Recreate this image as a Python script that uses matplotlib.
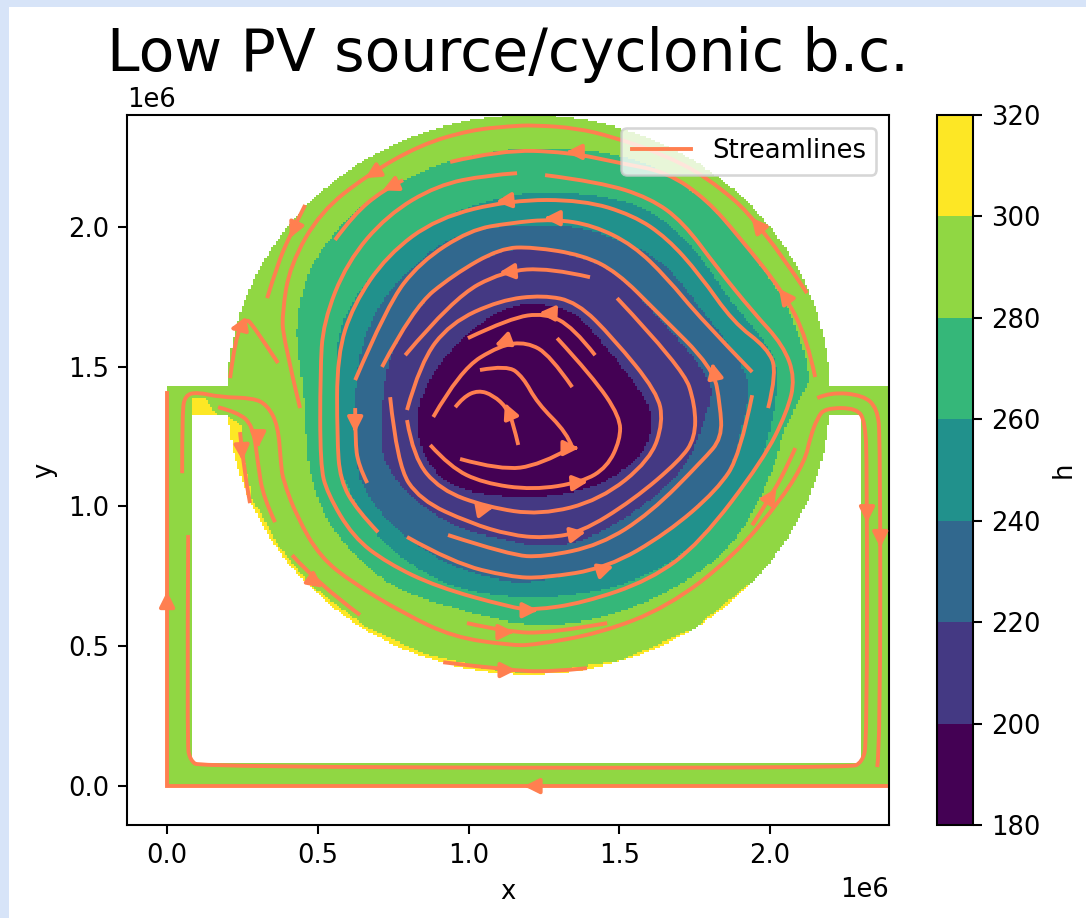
import numpy as np
import matplotlib
matplotlib.use('Agg')
import matplotlib.pyplot as plt
from matplotlib.colors import BoundaryNorm
from matplotlib.lines import Line2D
from matplotlib.patches import FancyArrowPatch, PathPatch, Rectangle
from matplotlib.path import Path

# all lengths below are in units of 1e6, as on the axes
levels = [180, 200, 220, 240, 260, 280, 300, 320]

# basin and channel geometry
circle_x, circle_y, circle_r = 1.2, 1.4, 1.0
channel_x0, channel_x1, channel_y0, channel_y1 = 0.0, 2.4, 0.0, 1.43
hole_x0, hole_x1, hole_y0, hole_y1 = 0.083, 2.306, 0.085, 1.327
background_h = 290

# h contours
c280_x = [1.138, 1.327, 1.513, 1.659, 1.792, 1.901, 2.011, 2.077, 2.140, 2.100, 2.034, 2.024, 1.934, 1.825, 1.659, 1.437,
          1.214, 1.005, 0.730, 0.564, 0.498, 0.465, 0.458, 0.448, 0.431, 0.431, 0.465, 0.531, 0.617, 0.730, 0.839, 0.949]
c280_y = [2.282, 2.285, 2.257, 2.192, 2.089, 1.960, 1.803, 1.674, 1.459, 1.388, 1.245, 1.166, 0.951, 0.808, 0.690, 0.594,
          0.569, 0.619, 0.712, 0.891, 1.023, 1.166, 1.338, 1.459, 1.577, 1.674, 1.838, 1.946, 2.053, 2.139, 2.196, 2.239]
c260_x = [1.138, 1.214, 1.380, 1.546, 1.659, 1.768, 1.878, 1.977, 2.027, 2.024, 1.977, 1.924, 1.825, 1.692, 1.493,
          1.271, 1.138, 0.972, 0.816, 0.684, 0.597, 0.567, 0.564, 0.557, 0.564, 0.607, 0.684, 0.796, 0.949]
c260_y = [2.115, 2.122, 2.122, 2.086, 2.019, 1.899, 1.720, 1.602, 1.506, 1.388, 1.166, 1.094, 0.951, 0.808, 0.708,
          0.672, 0.676, 0.701, 0.783, 0.905, 1.069, 1.166, 1.363, 1.481, 1.602, 1.720, 1.838, 1.960, 2.053]
c240_x = [1.138, 1.214, 1.380, 1.546, 1.659, 1.768, 1.868, 1.928, 1.928, 1.901, 1.868, 1.745, 1.603, 1.437,
          1.214, 1.138, 0.949, 0.816, 0.717, 0.640, 0.630, 0.624, 0.624, 0.650, 0.717, 0.816, 0.949]
c240_y = [2.006, 2.006, 1.999, 1.935, 1.863, 1.710, 1.577, 1.459, 1.381, 1.255, 1.119, 0.987, 0.869, 0.773,
          0.730, 0.726, 0.783, 0.869, 0.962, 1.084, 1.166, 1.245, 1.445, 1.602, 1.745, 1.863, 1.971]
c220_x = [1.171, 1.327, 1.493, 1.612, 1.735, 1.802, 1.808, 1.735, 1.646, 1.526, 1.393, 1.248,
          1.105, 1.015, 0.896, 0.783, 0.717, 0.713, 0.717, 0.763, 0.839, 0.949, 1.072]
c220_y = [1.924, 1.910, 1.838, 1.695, 1.552, 1.445, 1.388, 1.166, 1.059, 0.962, 0.880, 0.851,
          0.887, 0.905, 0.962, 1.059, 1.166, 1.245, 1.445, 1.602, 1.720, 1.828, 1.899]
c200_x = [1.214, 1.347, 1.437, 1.526, 1.596, 1.612, 1.579, 1.503, 1.393, 1.214, 0.995, 0.883, 0.823, 0.839, 0.916, 1.048, 1.138]
c200_y = [1.731, 1.702, 1.595, 1.477, 1.370, 1.284, 1.191, 1.119, 1.059, 1.030, 1.048, 1.119, 1.263, 1.391, 1.534, 1.667, 1.713]

# the yellow (300-320) fringe
patch_a_x = [0.086, 0.126, 0.166, 0.086]
patch_a_y = [1.388, 1.388, 1.327, 1.327]
fringe_x = [0.19, 0.245, 0.255, 0.281, 0.370, 0.474, 0.653, 0.847, 1.06, 1.2, 1.5, 1.75, 1.95, 2.1, 1.2, 0.2]
fringe_y = [1.33, 1.290, 1.180, 1.030, 0.860, 0.720, 0.575, 0.475, 0.42, 0.403, 0.447, 0.565, 0.74, 0.5, 0.2, 0.7]

# streamlines, in flow direction
edge_x = [2.395, 0.0, 0.0]
edge_y = [0.0, 0.0, 1.405]

long_x = [0.050, 0.050, 0.060, 0.100, 0.176, 0.285, 0.332, 0.368, 0.378, 0.385, 0.431, 0.508, 0.617, 0.783, 0.949, 1.138, 1.214, 1.437,
          1.659, 1.878, 2.044, 2.117, 2.133, 2.157, 2.183, 2.289, 2.316, 2.322, 2.322, 2.306, 2.266, 0.109, 0.076, 0.066, 0.070]
long_y = [1.119, 1.338, 1.398, 1.409, 1.391, 1.388, 1.363, 1.291, 1.148, 1.094, 0.962, 0.819, 0.726, 0.619, 0.533, 0.504, 0.504, 0.547,
          0.640, 0.819, 1.034, 1.166, 1.245, 1.316, 1.352, 1.352, 1.302, 1.148, 0.154, 0.086, 0.064, 0.068, 0.093, 0.154, 0.898]
right_x = [2.157, 2.200, 2.309, 2.356, 2.366, 2.366, 2.356]
right_y = [1.388, 1.409, 1.398, 1.352, 1.245, 0.154, 0.068]
s4_x = [0.169, 0.232, 0.285, 0.302, 0.319, 0.358]
s4_y = [1.355, 1.338, 1.291, 1.148, 1.034, 0.944]
s5_x = [0.242, 0.252, 0.275]
s5_y = [1.266, 1.148, 1.012]
s6_x = [0.368, 0.285, 0.259, 0.226, 0.209]
s6_y = [1.513, 1.649, 1.674, 1.602, 1.459]
s7_x = [2.123, 1.967, 1.792, 1.636, 1.480, 1.360, 1.214, 1.138, 1.005, 0.839, 0.664, 0.508, 0.408, 0.382, 0.385, 0.441]
s7_y = [1.763, 2.017, 2.178, 2.264, 2.321, 2.353, 2.364, 2.360, 2.346, 2.293, 2.185, 2.053, 1.863, 1.695, 1.602, 1.352]
s8_x = [0.458, 0.408, 0.365, 0.332]
s8_y = [2.078, 1.971, 1.863, 1.745]
s9_x = [0.783, 0.717, 0.617, 0.557]
s9_y = [2.167, 2.132, 2.042, 1.953]
s10_x = [2.150, 2.123, 2.044, 1.901, 1.792, 1.659, 1.503, 1.327, 1.105, 0.939]
s10_y = [1.463, 1.602, 1.767, 1.960, 2.096, 2.196, 2.228, 2.268, 2.275, 2.232]
s11_x = [1.161, 1.062, 0.896, 0.730, 0.597, 0.518, 0.508, 0.508, 0.531, 0.617, 0.730, 0.896, 1.138, 1.214, 1.380, 1.603, 1.768,
         1.977, 2.057, 2.084, 2.044, 1.944, 1.825, 1.712, 1.603, 1.437, 1.254]
s11_y = [2.192, 2.185, 2.149, 2.042, 1.874, 1.659, 1.481, 1.148, 1.048, 0.891, 0.798, 0.712, 0.640, 0.629, 0.655, 0.737, 0.869,
         1.166, 1.338, 1.459, 1.577, 1.695, 1.853, 2.017, 2.103, 2.160, 2.185]
s12_x = [1.994, 2.024, 1.991, 1.878, 1.768, 1.659, 1.546, 1.380, 1.138, 0.896, 0.730, 0.617, 0.564, 0.564, 0.574, 0.630, 0.700]
s12_y = [1.352, 1.481, 1.567, 1.659, 1.828, 1.960, 2.042, 2.096, 2.096, 2.032, 1.899, 1.720, 1.541, 1.245, 1.094, 0.987, 0.908]
s13_x = [0.796, 0.949, 1.138, 1.248, 1.460, 1.659, 1.825, 1.901, 1.941]
s13_y = [0.891, 0.798, 0.748, 0.744, 0.780, 0.905, 1.059, 1.184, 1.398]
s14_x = [1.941, 1.768, 1.659, 1.546, 1.413, 1.281, 1.138, 1.005, 0.839, 0.730, 0.624]
s14_y = [1.481, 1.674, 1.817, 1.935, 2.006, 2.028, 2.014, 1.989, 1.874, 1.720, 1.452]
s15_x = [0.932, 1.138, 1.248, 1.437, 1.603, 1.778, 1.841, 1.835, 1.812, 1.626, 1.493, 1.380, 1.214, 1.105, 0.949, 0.816, 0.713]
s15_y = [0.898, 0.826, 0.819, 0.862, 0.976, 1.166, 1.245, 1.363, 1.495, 1.695, 1.838, 1.899, 1.928, 1.924, 1.828, 1.710, 1.499]
s16_x = [1.403, 1.271, 1.115, 0.949, 0.790]
s16_y = [1.820, 1.853, 1.842, 1.745, 1.541]
s17_x = [0.624, 0.624, 0.634, 0.664]
s17_y = [1.352, 1.238, 1.148, 1.084]
s18_x = [0.740, 0.763, 0.839, 1.005, 1.138, 1.248, 1.370, 1.546, 1.702, 1.752, 1.752, 1.712, 1.493]
s18_y = [1.391, 1.148, 1.023, 0.941, 0.898, 0.887, 0.905, 1.023, 1.166, 1.245, 1.363, 1.495, 1.745]
s19_x = [0.796, 0.816, 0.906, 1.062, 1.238, 1.437, 1.603, 1.646, 1.626, 1.480, 1.360, 1.248, 1.105, 0.939, 0.839, 0.796]
s19_y = [1.309, 1.177, 1.059, 0.998, 0.969, 1.023, 1.166, 1.302, 1.409, 1.602, 1.731, 1.756, 1.738, 1.656, 1.513, 1.345]
i1_x = [1.420, 1.347, 1.254, 1.138, 0.998]
i1_y = [1.541, 1.642, 1.692, 1.674, 1.602]
i2_x = [1.344, 1.271, 1.194, 1.105, 0.972, 0.883]
i2_y = [1.427, 1.541, 1.588, 1.577, 1.488, 1.320]
i3_x = [0.873, 0.939, 1.048, 1.214, 1.377, 1.460, 1.503, 1.503, 1.413, 1.294]
i3_y = [1.220, 1.141, 1.084, 1.059, 1.087, 1.141, 1.238, 1.320, 1.463, 1.602]
i4_x = [0.972, 1.105, 1.238, 1.344]
i4_y = [1.170, 1.130, 1.148, 1.212]
i5_x = [1.344, 1.327, 1.228, 1.181, 1.128, 1.038]
i5_y = [1.212, 1.263, 1.370, 1.463, 1.506, 1.488]
i6_x = [1.165, 1.148, 1.128, 1.082, 1.032, 0.982, 0.956]
i6_y = [1.220, 1.298, 1.352, 1.398, 1.416, 1.391, 1.355]
low1_x = [1.941, 2.011, 2.067, 2.084]
low1_y = [0.933, 1.048, 1.166, 1.209]
low2_x = [0.415, 0.498, 0.640]
low2_y = [0.826, 0.726, 0.612]
low3_x = [0.995, 1.128, 1.271, 1.460]
low3_y = [0.583, 0.551, 0.547, 0.583]
low4_x = [0.916, 1.128, 1.271, 1.393]
low4_y = [0.443, 0.415, 0.408, 0.422]

# arrow heads: where they sit and which way they point
arrow_x = [1.204, 0.0, 2.322, 2.366, 0.249, 0.302, 0.226, 0.415, 0.674, 0.733, 1.111, 1.344, 1.271, 1.121, 1.951, 2.041, 1.812,
           1.254, 1.105, 1.128, 1.347, 1.377, 1.370, 1.463, 1.211, 1.131, 1.138, 0.501, 1.065, 0.624, 2.011]
arrow_y = [0.0, 0.676, 0.962, 0.873, 1.184, 1.230, 1.638, 1.978, 2.185, 2.139, 2.092, 2.268, 2.031, 1.838, 2.017, 1.763, 1.495,
           1.692, 1.584, 1.352, 1.209, 1.087, 0.905, 0.780, 0.629, 0.551, 0.415, 0.722, 0.994, 1.284, 1.048]
arrow_dx = [-1, 0, 0, 0, 0.05, 0, -1, -0.43, -1, -1, -1, -1, -1, -1, -1, -0.7, -0.2,
            -1, -1, -0.4, 1, 1, 1, 1, 1, 1, 1, 1, 1, 0, 0.6]
arrow_dy = [0, 1, -1, -1, -1, -1, -0.2, -1, -0.65, -0.5, -0.1, 0, 0, -0.1, 1.3, 1, 1,
            0.05, -0.4, 1, 0, 0.1, 0.2, 0.35, 0, 0, 0, -0.8, 0.2, -1, 1]

contours = [(270, c280_x, c280_y), (250, c260_x, c260_y), (230, c240_x, c240_y), (210, c220_x, c220_y), (190, c200_x, c200_y)]
streams = [(long_x, long_y), (right_x, right_y), (s4_x, s4_y), (s5_x, s5_y), (s6_x, s6_y), (s7_x, s7_y), (s8_x, s8_y),
           (s9_x, s9_y), (s10_x, s10_y), (s11_x, s11_y), (s12_x, s12_y), (s13_x, s13_y), (s14_x, s14_y), (s15_x, s15_y),
           (s16_x, s16_y), (s17_x, s17_y), (s18_x, s18_y), (s19_x, s19_y), (i1_x, i1_y), (i2_x, i2_y), (i3_x, i3_y),
           (i4_x, i4_y), (i5_x, i5_y), (i6_x, i6_y), (low1_x, low1_y), (low2_x, low2_y), (low3_x, low3_y), (low4_x, low4_y)]


def smooth_path(xs, ys, closed=False):
    pts = np.column_stack([xs, ys]) * 1e6
    mids = (pts + np.roll(pts, -1, axis=0)) / 2
    if closed:
        verts = [mids[-1]]
        for i in range(len(pts)):
            verts += [pts[i], mids[i]]
    else:
        verts = [pts[0]]
        for i in range(1, len(pts) - 1):
            verts += [pts[i], mids[i] if i < len(pts) - 2 else pts[-1]]
    codes = [Path.MOVETO] + [Path.CURVE3] * (len(verts) - 1)
    return Path(np.array(verts), codes)


dx = 0.0075e6
x_edges = np.arange(0, 2.4e6 + dx, dx)
y_edges = np.arange(0, 2.4e6 + dx, dx)
xc, yc = np.meshgrid((x_edges[:-1] + x_edges[1:]) / 2, (y_edges[:-1] + y_edges[1:]) / 2)
cells = np.column_stack([xc.ravel(), yc.ravel()])

in_circle = (xc - circle_x * 1e6) ** 2 + (yc - circle_y * 1e6) ** 2 < (circle_r * 1e6) ** 2
in_channel = (xc > channel_x0 * 1e6) & (xc < channel_x1 * 1e6) & (yc > channel_y0 * 1e6) & (yc < channel_y1 * 1e6)
in_hole = (xc > hole_x0 * 1e6) & (xc < hole_x1 * 1e6) & (yc > hole_y0 * 1e6) & (yc < hole_y1 * 1e6)
domain = in_circle | (in_channel & ~in_hole)

h = np.full(xc.shape, float(background_h))
for xs, ys in [(patch_a_x, patch_a_y), (fringe_x, fringe_y)]:
    inside = Path(np.column_stack([xs, ys]) * 1e6).contains_points(cells).reshape(xc.shape)
    h[inside] = 310
for value, xs, ys in contours:
    inside = smooth_path(xs, ys, closed=True).contains_points(cells).reshape(xc.shape)
    h[inside] = value
h = np.ma.masked_where(~domain, h)

W, H = 1086, 918
DPI = 186
fig = plt.figure(figsize=(W / DPI, H / DPI), dpi=DPI)
fig.add_artist(Rectangle((0, 0), 9 / W, 1, transform=fig.transFigure, color='#d7e4f8', lw=0))
fig.add_artist(Rectangle((0, 1 - 7 / H), 1, 7 / H, transform=fig.transFigure, color='#d7e4f8', lw=0))

ax = fig.add_axes([127 / W, 1 - 825 / H, (889 - 127) / W, (825 - 115) / H])
cax = fig.add_axes([937 / W, 1 - 825 / H, (973 - 937) / W, (825 - 115) / H])

norm = BoundaryNorm(levels, 7)
mesh = ax.pcolormesh(x_edges, y_edges, h, cmap=plt.get_cmap('viridis', 7), norm=norm)

coral = 'coral'
ax.plot(np.array(edge_x) * 1e6, np.array(edge_y) * 1e6, color=coral, lw=1.5, solid_joinstyle='miter')
for xs, ys in streams:
    ax.add_patch(PathPatch(smooth_path(xs, ys), fill=False, edgecolor=coral, lw=1.5))
for x, y, u, v in zip(arrow_x, arrow_y, arrow_dx, arrow_dy):
    length = np.hypot(u, v)
    tip = (x * 1e6 + u / length * 0.02e6, y * 1e6 + v / length * 0.02e6)
    ax.add_patch(FancyArrowPatch((x * 1e6, y * 1e6), tip, arrowstyle='-|>', mutation_scale=12,
                                 color=coral, lw=1.5, shrinkA=0, shrinkB=0, zorder=3))

ax.set_xlim(-0.133e6, 2.395e6)
ax.set_ylim(-0.139e6, 2.4e6)
ax.set_xticks([0, 0.5e6, 1e6, 1.5e6, 2e6])
ax.set_yticks([0, 0.5e6, 1e6, 1.5e6, 2e6])
ax.set_xlabel('x')
ax.set_ylabel('y')
ax.set_title('Low PV source/cyclonic b.c.', fontsize=22.6, pad=17)
ax.legend(handles=[Line2D([], [], color=coral, lw=1.5, label='Streamlines')], loc='upper right', handlelength=2.3)

cbar = fig.colorbar(mesh, cax=cax, ticks=levels, spacing='proportional')
cbar.set_label('h')

fig.savefig('out.png', dpi=DPI)
